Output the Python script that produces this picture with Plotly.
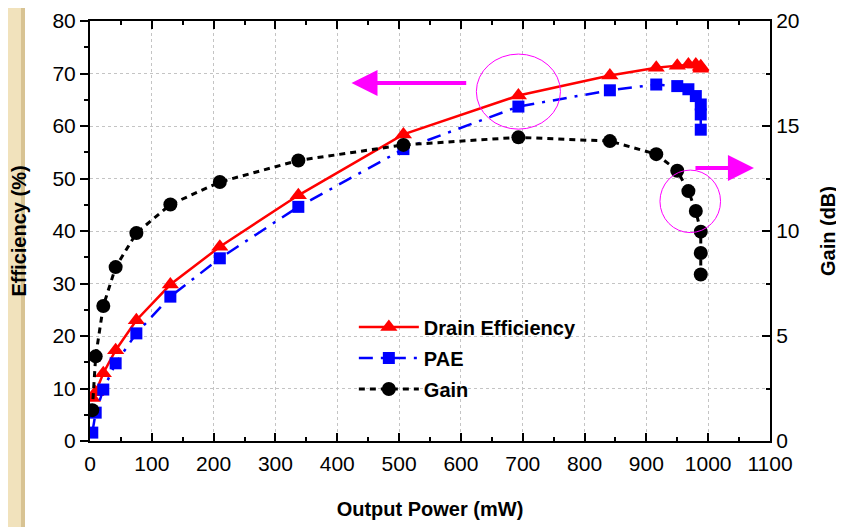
import plotly.graph_objects as go

# Output power (mW)
power = [3.7, 9.2, 21.5, 41.5, 75, 130, 210, 337, 507, 693, 841, 916, 950, 968, 980, 988, 988, 988]
# Drain efficiency (%)
drain_eff = [8.2, 9.3, 12.9, 17.3, 23.0, 29.8, 37.0, 46.8, 58.4, 65.8, 69.6, 71.1, 71.5, 71.7, 71.7, 71.4, 71.2, 70.9]
# PAE (%)
pae = [1.6, 5.4, 9.8, 14.8, 20.5, 27.5, 34.8, 44.6, 55.6, 63.7, 66.8, 67.9, 67.6, 67.0, 65.7, 64.1, 62.2, 59.3]
# Gain (dB)
gain = [1.47, 4.03, 6.43, 8.28, 9.9, 11.26, 12.33, 13.36, 14.1, 14.46, 14.28, 13.66, 12.87, 11.9, 10.95, 9.97, 8.95, 7.93]

x_ticks = [0, 100, 200, 300, 400, 500, 600, 700, 800, 900, 1000, 1100]

FONT = "Liberation Sans, Arial, sans-serif"

fig = go.Figure()

fig.add_trace(go.Scatter(
    x=power, y=drain_eff, name="Drain Efficiency", mode="lines+markers", legendgroup="a",
    line=dict(color="#ff0000", width=2.5),
    marker=dict(symbol="triangle-up", size=15, color="#ff0000"),
))
fig.add_trace(go.Scatter(
    x=power, y=pae, name="PAE", mode="lines+markers", legendgroup="b",
    line=dict(color="#0000ff", width=2.5, dash="14px,8px,3px,8px"),
    marker=dict(symbol="square", size=12, color="#0000ff"),
))
fig.add_trace(go.Scatter(
    x=power, y=gain, name="Gain", mode="lines+markers", yaxis="y2", legendgroup="c",
    line=dict(color="#000000", width=3, dash="6px,5px"),
    marker=dict(symbol="circle", size=14, color="#000000"),
))

# left decorative beige strip (slide background)
fig.add_shape(type="rect", xref="paper", yref="paper", x0=-0.125, x1=-0.0956, y0=-0.21, y1=1.05,
              fillcolor="#F1E2BC", line_width=0, layer="below")
fig.add_shape(type="rect", xref="paper", yref="paper", x0=-0.1015, x1=-0.0956, y0=-0.21, y1=1.05,
              fillcolor="#D8C393", line_width=0, layer="below")

# magenta circles
fig.add_shape(type="circle", xref="x", yref="y", x0=625, x1=761, y0=59.4, y1=73.7,
              line=dict(color="#ff00ff", width=1))
fig.add_shape(type="circle", xref="x", yref="y", x0=922, x1=1020, y0=39.7, y1=51.6,
              line=dict(color="#ff00ff", width=1))

# magenta arrows
fig.add_annotation(x=423, y=68.2, ax=611, ay=68.2, xref="x", yref="y", axref="x", ayref="y",
                   showarrow=True, arrowhead=2, arrowsize=1.3, arrowwidth=4, arrowcolor="#ff00ff", text="")
fig.add_annotation(x=1074, y=52.0, ax=977, ay=52.0, xref="x", yref="y", axref="x", ayref="y",
                   showarrow=True, arrowhead=2, arrowsize=1.3, arrowwidth=4, arrowcolor="#ff00ff", text="")

fig.update_layout(
    width=836, height=519,
    margin=dict(l=82, r=74, t=13, b=86, autoexpand=False),
    paper_bgcolor="white", plot_bgcolor="white",
    font=dict(family=FONT, size=21, color="black"),
    showlegend=True,
    legend=dict(x=0.388, y=0.318, xanchor="left", yanchor="top",
                bgcolor="rgba(0,0,0,0)", borderwidth=0,
                font=dict(family=FONT, size=20, color="black", weight="bold"),
                itemwidth=60, tracegroupgap=2),
    xaxis=dict(
        range=[0, 1100], tickmode="array", tickvals=x_ticks, ticktext=[str(v) for v in x_ticks],
        automargin=False, ticklabeloverflow="allow",
        showline=True, linecolor="black", linewidth=2, mirror="ticks",
        ticks="inside", ticklen=8, tickwidth=1.5, tickcolor="black",
        minor=dict(ticks="inside", ticklen=4, dtick=50, tickcolor="black", tickwidth=1.5, showgrid=False),
        showgrid=True, gridcolor="#c4c4c4", griddash="dot", gridwidth=1,
        zeroline=False, ticklabelstandoff=3,
        title=dict(text="<b>Output Power (mW)</b>", font=dict(size=20), standoff=28),
        tickfont=dict(size=21),
    ),
    yaxis=dict(
        range=[0, 80], dtick=10, automargin=False, ticklabeloverflow="allow",
        showline=True, linecolor="black", linewidth=2,
        ticks="outside", ticklen=8, tickwidth=1.5, tickcolor="black",
        minor=dict(ticks="outside", ticklen=4, dtick=5, tickcolor="black", tickwidth=1.5, showgrid=False),
        showgrid=True, gridcolor="#c4c4c4", griddash="dot", gridwidth=1,
        zeroline=False,
        title=dict(text="<b>Efficiency (%)</b>", font=dict(size=20), standoff=20),
        tickfont=dict(size=21),
    ),
    yaxis2=dict(
        range=[0, 20], dtick=5, overlaying="y", side="right", automargin=False, ticklabeloverflow="allow",
        showline=True, linecolor="black", linewidth=2,
        ticks="inside", ticklen=8, tickwidth=1.5, tickcolor="black",
        minor=dict(ticks="inside", ticklen=4, dtick=2.5, tickcolor="black", tickwidth=1.5),
        showgrid=False, zeroline=False,
        title=dict(text="<b>Gain (dB)</b>", font=dict(size=20), standoff=22),
        tickfont=dict(size=21),
    ),
)

fig.write_html("out.html")
